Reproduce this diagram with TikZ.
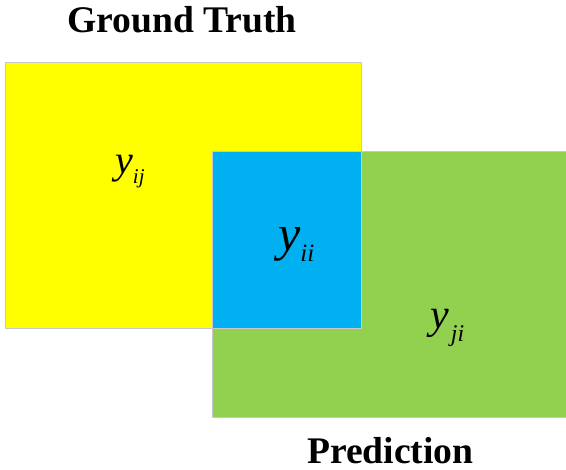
\documentclass[tikz,border=0pt]{standalone}
\usepackage{fontspec}
\setmainfont{Liberation Serif}
\definecolor{gtyellow}{HTML}{FFFF00}
\definecolor{prgreen}{HTML}{92D050}
\definecolor{ovblue}{HTML}{00B0F0}
\definecolor{edgegray}{HTML}{C8C8C8}
\begin{document}
\begin{tikzpicture}[x=1pt,y=-1pt,
  region/.style={draw=edgegray,line width=0.8pt},
  title/.style={inner sep=0pt,anchor=base west,font=\fontsize{37.6}{40}\selectfont\bfseries},
  lbl/.style={inner sep=0pt,anchor=base west}]
\useasboundingbox (0,0) rectangle (566,470);
\fill[white] (0,0) rectangle (566,470);
\filldraw[region,fill=gtyellow] (5,62) rectangle (361,328);
\filldraw[region,fill=prgreen] (212,151) rectangle (567,417);
\filldraw[region,fill=ovblue] (212,151) rectangle (361,328);
\node[title] (gt) at (67,33) {Ground Truth};
\node[title] (pr) at (307,464) {Prediction};
\node[lbl] (yij) at (115,174) {\fontsize{40}{40}\selectfont\itshape y\raisebox{-10pt}{\fontsize{21}{21}\selectfont ij}};
\node[lbl] (yii) at (278,251) {\fontsize{50}{50}\selectfont\itshape y\raisebox{-11pt}{\fontsize{25}{25}\selectfont ii}};
\node[lbl] (yji) at (430,329) {\fontsize{42}{42}\selectfont\itshape y\hspace{2pt}\raisebox{-13pt}{\fontsize{24}{24}\selectfont ji}};
\end{tikzpicture}
\end{document}
